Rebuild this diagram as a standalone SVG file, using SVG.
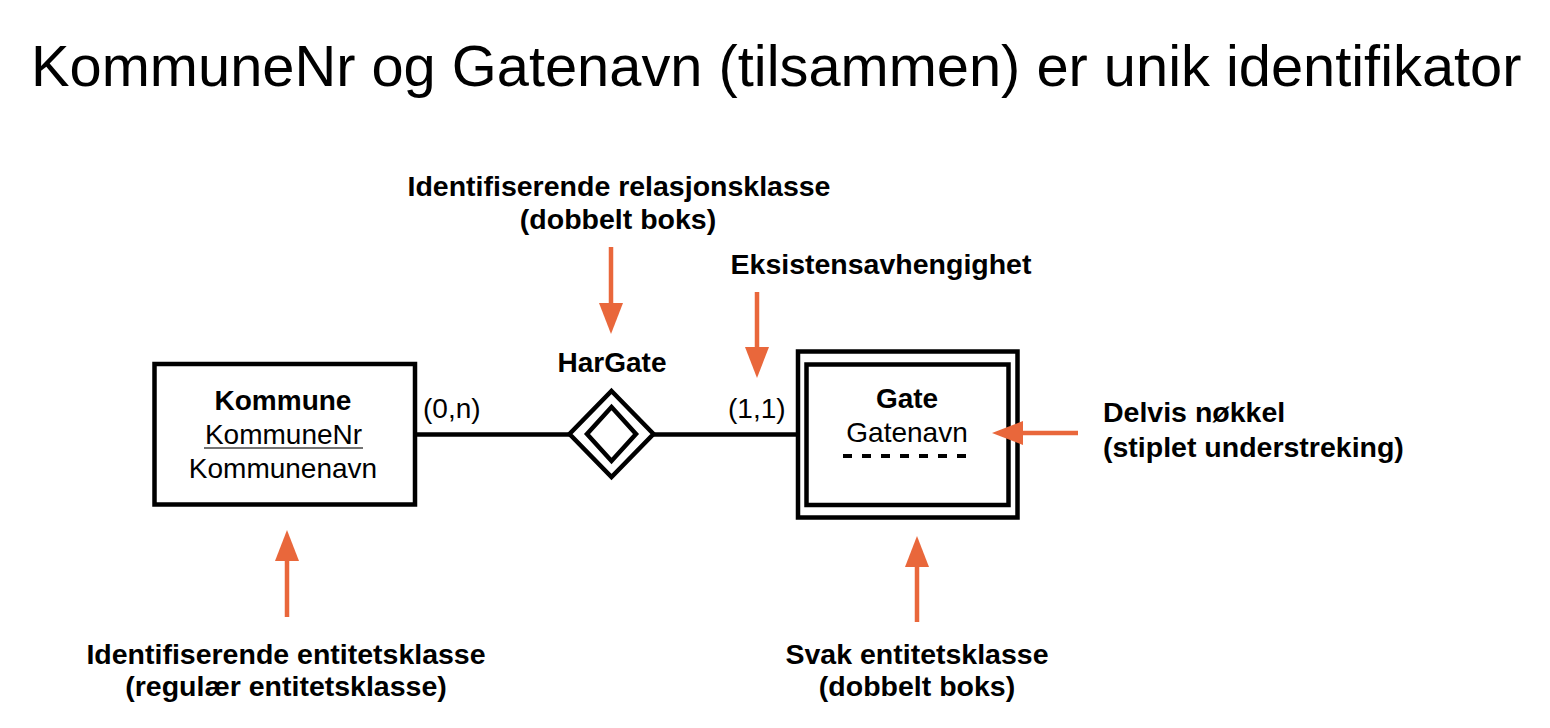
<svg xmlns="http://www.w3.org/2000/svg" width="1550" height="728" viewBox="0 0 1550 728">
<style>
text{font-family:"Liberation Sans",Arial,sans-serif;fill:#000}
.title{font-size:57.8px}
.lbl{font-size:28.5px;font-weight:bold}
.bt{font-size:28px;font-weight:bold}
.t{font-size:28px}
.box{fill:#fff;stroke:#000;stroke-width:4.5}
.con{stroke:#000;stroke-width:4.5;fill:none}
.arr{stroke:#E9673B;stroke-width:4.5;fill:none;marker-end:url(#ah)}
</style>
<defs>
<marker id="ah" markerUnits="userSpaceOnUse" markerWidth="32" markerHeight="26" viewBox="0 0 32 26" refX="0" refY="13" orient="auto">
<path d="M0,1 L31,13 L0,25 z" fill="#E9673B"/>
</marker>
</defs>
<rect width="1550" height="728" fill="#fff"/>
<text class="title" x="31" y="86">KommuneNr og Gatenavn (tilsammen) er unik identifikator</text>

<g id="kommune">
<rect class="box" x="154.5" y="364" width="260.5" height="140.5"/>
<text class="bt" x="283" y="410" text-anchor="middle">Kommune</text>
<text class="t" x="283.5" y="444" text-anchor="middle">KommuneNr</text>
<line x1="204" y1="448" x2="363" y2="448" stroke="#444" stroke-width="1.5"/>
<text class="t" x="283" y="478" text-anchor="middle">Kommunenavn</text>
</g>

<g id="hargate">
<polygon class="box" points="611.5,391 653.5,434 611.5,477 569.5,434"/>
<polygon class="con" points="611.5,407 636,434 611.5,461 587,434"/>
<text class="bt" x="612" y="372" text-anchor="middle">HarGate</text>
</g>

<g id="card-0n"><text class="t" x="423" y="418">(0,n)</text></g>
<g id="card-11"><text class="t" x="728" y="418">(1,1)</text></g>

<g id="gate">
<rect class="box" x="798" y="351.5" width="219.5" height="166"/>
<rect class="con" x="806.5" y="364.5" width="202" height="140.5"/>
<text class="bt" x="907" y="408" text-anchor="middle">Gate</text>
<text class="t" x="907" y="442" text-anchor="middle">Gatenavn</text>
<line x1="843" y1="456" x2="968" y2="456" stroke="#000" stroke-width="4" stroke-dasharray="9 10"/>
</g>

<g id="label-relasjon">
<text class="lbl" x="619" y="196" text-anchor="middle">Identifiserende relasjonsklasse</text>
<text class="lbl" x="618" y="229" text-anchor="middle">(dobbelt boks)</text>
</g>
<g id="label-eksistens">
<text class="lbl" x="881" y="274" text-anchor="middle">Eksistensavhengighet</text>
</g>
<g id="label-delvis">
<text class="lbl" x="1103" y="422">Delvis nøkkel</text>
<text class="lbl" x="1103" y="457">(stiplet understreking)</text>
</g>
<g id="label-identifiserende">
<text class="lbl" x="286" y="664" text-anchor="middle">Identifiserende entitetsklasse</text>
<text class="lbl" x="286" y="696" text-anchor="middle">(regulær entitetsklasse)</text>
</g>
<g id="label-svak">
<text class="lbl" x="917" y="664" text-anchor="middle">Svak entitetsklasse</text>
<text class="lbl" x="917" y="696" text-anchor="middle">(dobbelt boks)</text>
</g>

<g id="connectors">
<line class="con" x1="417" y1="434.5" x2="570" y2="434.5"/>
<line class="con" x1="653" y1="434.5" x2="796" y2="434.5"/>
<line class="arr" x1="611" y1="247" x2="611" y2="303"/>
<line class="arr" x1="757" y1="292" x2="757" y2="347"/>
<line class="arr" x1="1078" y1="433" x2="1023" y2="433"/>
<line class="arr" x1="287" y1="617" x2="287" y2="561"/>
<line class="arr" x1="917" y1="622" x2="917" y2="567"/>
</g>
</svg>
